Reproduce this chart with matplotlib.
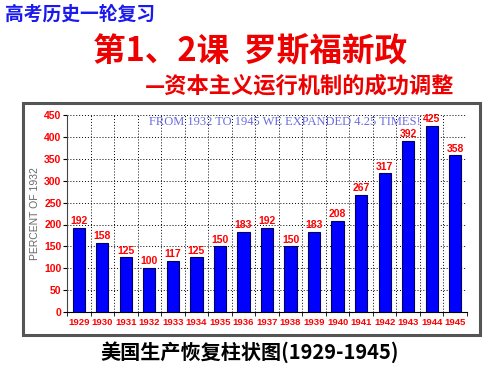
import numpy as np
import matplotlib
matplotlib.use('Agg')
import matplotlib.pyplot as plt
from matplotlib.patches import Rectangle
from matplotlib.ticker import MultipleLocator, FixedLocator

#### Data ####
years = ['1929', '1930', '1931', '1932', '1933', '1934', '1935', '1936', '1937',
         '1938', '1939', '1940', '1941', '1942', '1943', '1944', '1945']
values = [192, 158, 125, 100, 117, 125, 150, 183, 192, 150, 183, 208, 267, 317, 392, 425, 358]

cjk = ['Noto Sans CJK SC', 'DejaVu Sans']
sans = ['Liberation Sans', 'DejaVu Sans']

fig = plt.figure(figsize=(5, 3.75), dpi=100)
fig.patch.set_facecolor('white')

## outer frame round the chart
frame = Rectangle((0.046, 0.107), 0.914, 0.618, transform=fig.transFigure,
                  facecolor='white', edgecolor='#555555', lw=2.2, zorder=-5)
fig.patches.append(frame)

ax = fig.add_axes([0.134, 0.168, 0.8, 0.525])
ax.set_zorder(2)
ax.patch.set_alpha(0)
x = np.arange(len(years))
ax.bar(x, values, width=0.52, color='#0000ff', edgecolor='#000060', lw=0.8, zorder=3)

for xi, v in zip(x, values):
    ax.text(xi, v + 4, str(v), ha='center', va='bottom', color='red',
            fontsize=7.5, fontweight='bold', family=sans, zorder=4)

ax.set_xlim(-0.5, len(years) - 0.5)
ax.set_ylim(0, 450)
ax.yaxis.set_major_locator(MultipleLocator(50))
ax.set_xticks(x)
ax.set_xticklabels(years)
ax.xaxis.set_minor_locator(FixedLocator(np.arange(-0.5, len(years), 1)))
ax.tick_params(axis='x', which='major', length=0, pad=4, labelsize=6.8, labelcolor='red')
ax.tick_params(axis='x', which='minor', length=3, direction='out')
ax.tick_params(axis='y', length=3, labelsize=7.5, labelcolor='red', pad=1)
for lab in ax.get_xticklabels() + ax.get_yticklabels():
    lab.set_fontweight('bold')
    lab.set_family(sans)

ax.grid(True, axis='y', which='major', ls=(0, (1, 2)), color='black', lw=0.7, zorder=1)
ax.grid(True, axis='x', which='minor', ls=(0, (1, 2)), color='black', lw=0.7, zorder=1)
for s in ['top', 'right']:
    ax.spines[s].set_visible(False)
ax.spines['left'].set_color('#444444')
ax.spines['bottom'].set_color('black')

ax.set_ylabel('PERCENT OF 1932', color='#666666', fontsize=7.5, labelpad=3, family=sans)

ax.text(0.205, 0.965, 'FROM 1932 TO 1945 WE EXPANDED 4.25 TIMES!', transform=ax.transAxes,
        family=['Liberation Serif', 'DejaVu Serif'], fontsize=9, color='#6a6ae0', va='center')

## titles
fig.text(0.01, 0.962, '高考历史一轮复习', family=cjk, fontsize=13.5, fontweight='bold',
         color='#1a1aee', va='center', ha='left')
fig.text(0.5, 0.862, '第1、2课  罗斯福新政', family=cjk, fontsize=23.5, fontweight='bold',
         color='#ee0000', va='center', ha='center')
fig.text(0.6, 0.77, '—资本主义运行机制的成功调整', family=cjk, fontsize=16, fontweight='bold',
         color='#ee0000', va='center', ha='center')
fig.text(0.5, 0.06, '美国生产恢复柱状图(1929-1945)', family=cjk, fontsize=14.5, fontweight='bold',
         color='black', va='center', ha='center')

fig.savefig('out.png', dpi=100)
